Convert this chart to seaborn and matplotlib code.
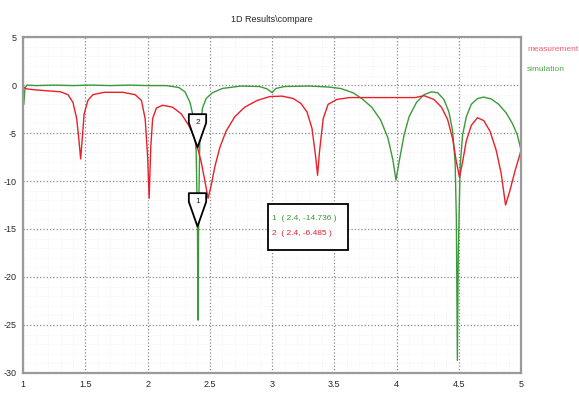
import numpy as np
import pandas as pd
import seaborn as sns
import matplotlib.pyplot as plt
from matplotlib.path import Path
from matplotlib.patches import Rectangle

# values
meas_x = [1.00, 1.03, 1.10, 1.20, 1.30, 1.36, 1.40, 1.43, 1.45, 1.462, 1.475, 1.49, 1.52, 1.56,
          1.65, 1.80, 1.90, 1.95, 1.98, 2.00, 2.012, 2.025, 2.04, 2.07, 2.12, 2.20, 2.27, 2.33,
          2.38, 2.40, 2.43, 2.46, 2.485, 2.51, 2.54, 2.58, 2.63, 2.70, 2.78, 2.88, 2.98, 3.08,
          3.17, 3.23, 3.28, 3.32, 3.35, 3.365, 3.38, 3.41, 3.45, 3.52, 3.62, 3.80, 4.00, 4.15,
          4.22, 4.30, 4.36, 4.41, 4.45, 4.48, 4.505, 4.53, 4.56, 4.60, 4.65, 4.70, 4.75, 4.80,
          4.84, 4.875, 4.91, 4.95, 5.00]
meas_y = [-0.2, -0.4, -0.5, -0.6, -0.7, -1.0, -1.8, -3.5, -6.0, -7.7, -5.5, -3.0, -1.6, -1.0,
          -0.75, -0.75, -1.0, -1.6, -3.5, -7.5, -11.8, -6.5, -3.5, -2.4, -2.1, -2.3, -3.0, -4.2,
          -5.6, -6.5, -8.0, -10.0, -11.8, -10.5, -8.5, -6.5, -4.8, -3.3, -2.3, -1.6, -1.2, -1.15,
          -1.4, -1.9, -2.8, -4.5, -7.5, -9.4, -7.0, -3.5, -2.0, -1.5, -1.3, -1.3, -1.3, -1.3,
          -1.1, -1.5, -2.3, -3.6, -5.6, -8.0, -9.6, -8.0, -5.8, -4.2, -3.4, -3.7, -4.8, -6.8,
          -9.2, -12.5, -11.0, -9.0, -6.8]

sim_x = [1.00, 1.005, 1.015, 1.03, 1.10, 1.25, 1.40, 1.55, 1.70, 1.85, 2.00, 2.15, 2.25, 2.30,
         2.34, 2.37, 2.39, 2.400, 2.405, 2.41, 2.42, 2.44, 2.47, 2.52, 2.60, 2.75, 2.90, 2.96,
         3.00, 3.03, 3.10, 3.30, 3.45, 3.55, 3.65, 3.72, 3.80, 3.87, 3.93, 3.97, 3.995, 4.02,
         4.06, 4.10, 4.16, 4.22, 4.28, 4.33, 4.38, 4.42, 4.45, 4.47, 4.48, 4.488, 4.495, 4.51,
         4.53, 4.56, 4.60, 4.65, 4.70, 4.76, 4.82, 4.88, 4.93, 4.97, 5.00]
sim_y = [0.0, -2.0, -0.3, 0.0, -0.05, 0.0, -0.05, 0.0, -0.05, 0.0, -0.05, -0.05, -0.25, -0.7,
         -1.8, -3.5, -7.0, -14.7, -24.5, -13.0, -5.0, -2.4, -1.4, -0.8, -0.35, -0.1, -0.15, -0.4,
         -0.8, -0.35, -0.15, -0.1, -0.2, -0.35, -0.8, -1.4, -2.3, -3.6, -5.5, -7.8, -9.9, -8.0,
         -5.2, -3.3, -1.8, -1.0, -0.7, -0.8, -1.5, -2.8, -4.8, -8.0, -14.0, -28.7, -18.0, -8.5,
         -5.2, -3.3, -2.0, -1.4, -1.25, -1.45, -2.0, -2.9, -4.0, -5.2, -6.8]

marker_ids = ["1", "2"]
marker_x = [2.4, 2.4]
marker_y = [-14.736, -6.485]
marker_colors = ["#3a9a3a", "#e8202a"]

x_ticks = [1, 1.5, 2, 2.5, 3, 3.5, 4, 4.5, 5]
x_labels = ["1", "1.5", "2", "2.5", "3", "3.5", "4", "4.5", "5"]
y_ticks = [5, 0, -5, -10, -15, -20, -25, -30]

red = "#e8202a"
green = "#3a9a3a"

meas = pd.DataFrame({"x": meas_x, "y": meas_y})
sim = pd.DataFrame({"x": sim_x, "y": sim_y})

sns.set_style("white")
plt.rcParams["font.family"] = ["Liberation Sans", "DejaVu Sans"]
plt.rcParams["axes.unicode_minus"] = False

fig = plt.figure(figsize=(5.79, 3.95), dpi=100)
ax = fig.add_axes([0.040, 0.056, 0.860, 0.850])

ax.grid(True, which="major", linestyle=":", color="#8a8a8a", linewidth=0.9)
ax.minorticks_on()
ax.set_xticks(np.arange(1, 5.01, 0.1), minor=True)
ax.set_yticks(np.arange(-30, 5.01, 1), minor=True)
ax.grid(True, which="minor", linestyle=":", color="#ececec", linewidth=0.5)

sns.lineplot(data=sim, x="x", y="y", sort=False, estimator=None, color=green,
             linewidth=1.0, ax=ax)
sns.lineplot(data=meas, x="x", y="y", sort=False, estimator=None, color=red,
             linewidth=1.0, ax=ax)

# marker flags: box with number on top, pointed tip on the data point
flag = Path([(-0.26, 1.0), (0.26, 1.0), (0.26, 0.74), (0.0, 0.0), (-0.26, 0.74), (-0.26, 1.0)],
            [Path.MOVETO, Path.LINETO, Path.LINETO, Path.LINETO, Path.LINETO, Path.CLOSEPOLY])
for mid, mx, my in zip(marker_ids, marker_x, marker_y):
    ax.plot([mx], [my], marker=flag, markersize=48, markerfacecolor="white",
            markeredgecolor="black", markeredgewidth=1.3, linestyle="none", zorder=5)
    ax.annotate(mid, (mx, my), xytext=(0, 18), textcoords="offset points",
                ha="center", va="center", fontsize=6, zorder=6)

# readout box
ax.add_patch(Rectangle((0.492, 0.366), 0.16, 0.137, transform=ax.transAxes,
                       facecolor="white", edgecolor="black", linewidth=1.3, zorder=6))
for i, (mid, mx, my, c) in enumerate(zip(marker_ids, marker_x, marker_y, marker_colors)):
    ax.text(0.5, 0.461 - i * 0.047, f"{mid}  ( {mx}, {my} )", transform=ax.transAxes,
            color=c, fontsize=6, va="center", ha="left", zorder=7)

ax.set_xlim(1, 5)
ax.set_ylim(-30, 5)
ax.set_xticks(x_ticks)
ax.set_xticklabels(x_labels)
ax.set_yticks(y_ticks)
ax.tick_params(which="major", labelsize=6.5, length=3, color="#888888", pad=2)
ax.tick_params(which="minor", length=0)
ax.set_xlabel("")
ax.set_ylabel("")
for s in ax.spines.values():
    s.set_color("#9a9a9a")
    s.set_linewidth(1.6)

ax.set_title("1D Results\\compare", fontsize=6.5, pad=11)

ax.text(1.012, 0.964, "measurement", transform=ax.transAxes, color="#f06070",
        fontsize=6, va="center", ha="left", clip_on=False)
ax.text(1.012, 0.905, "simulation", transform=ax.transAxes, color="#4aa84a",
        fontsize=6, va="center", ha="left", clip_on=False)

fig.savefig("out.png", dpi=100)
